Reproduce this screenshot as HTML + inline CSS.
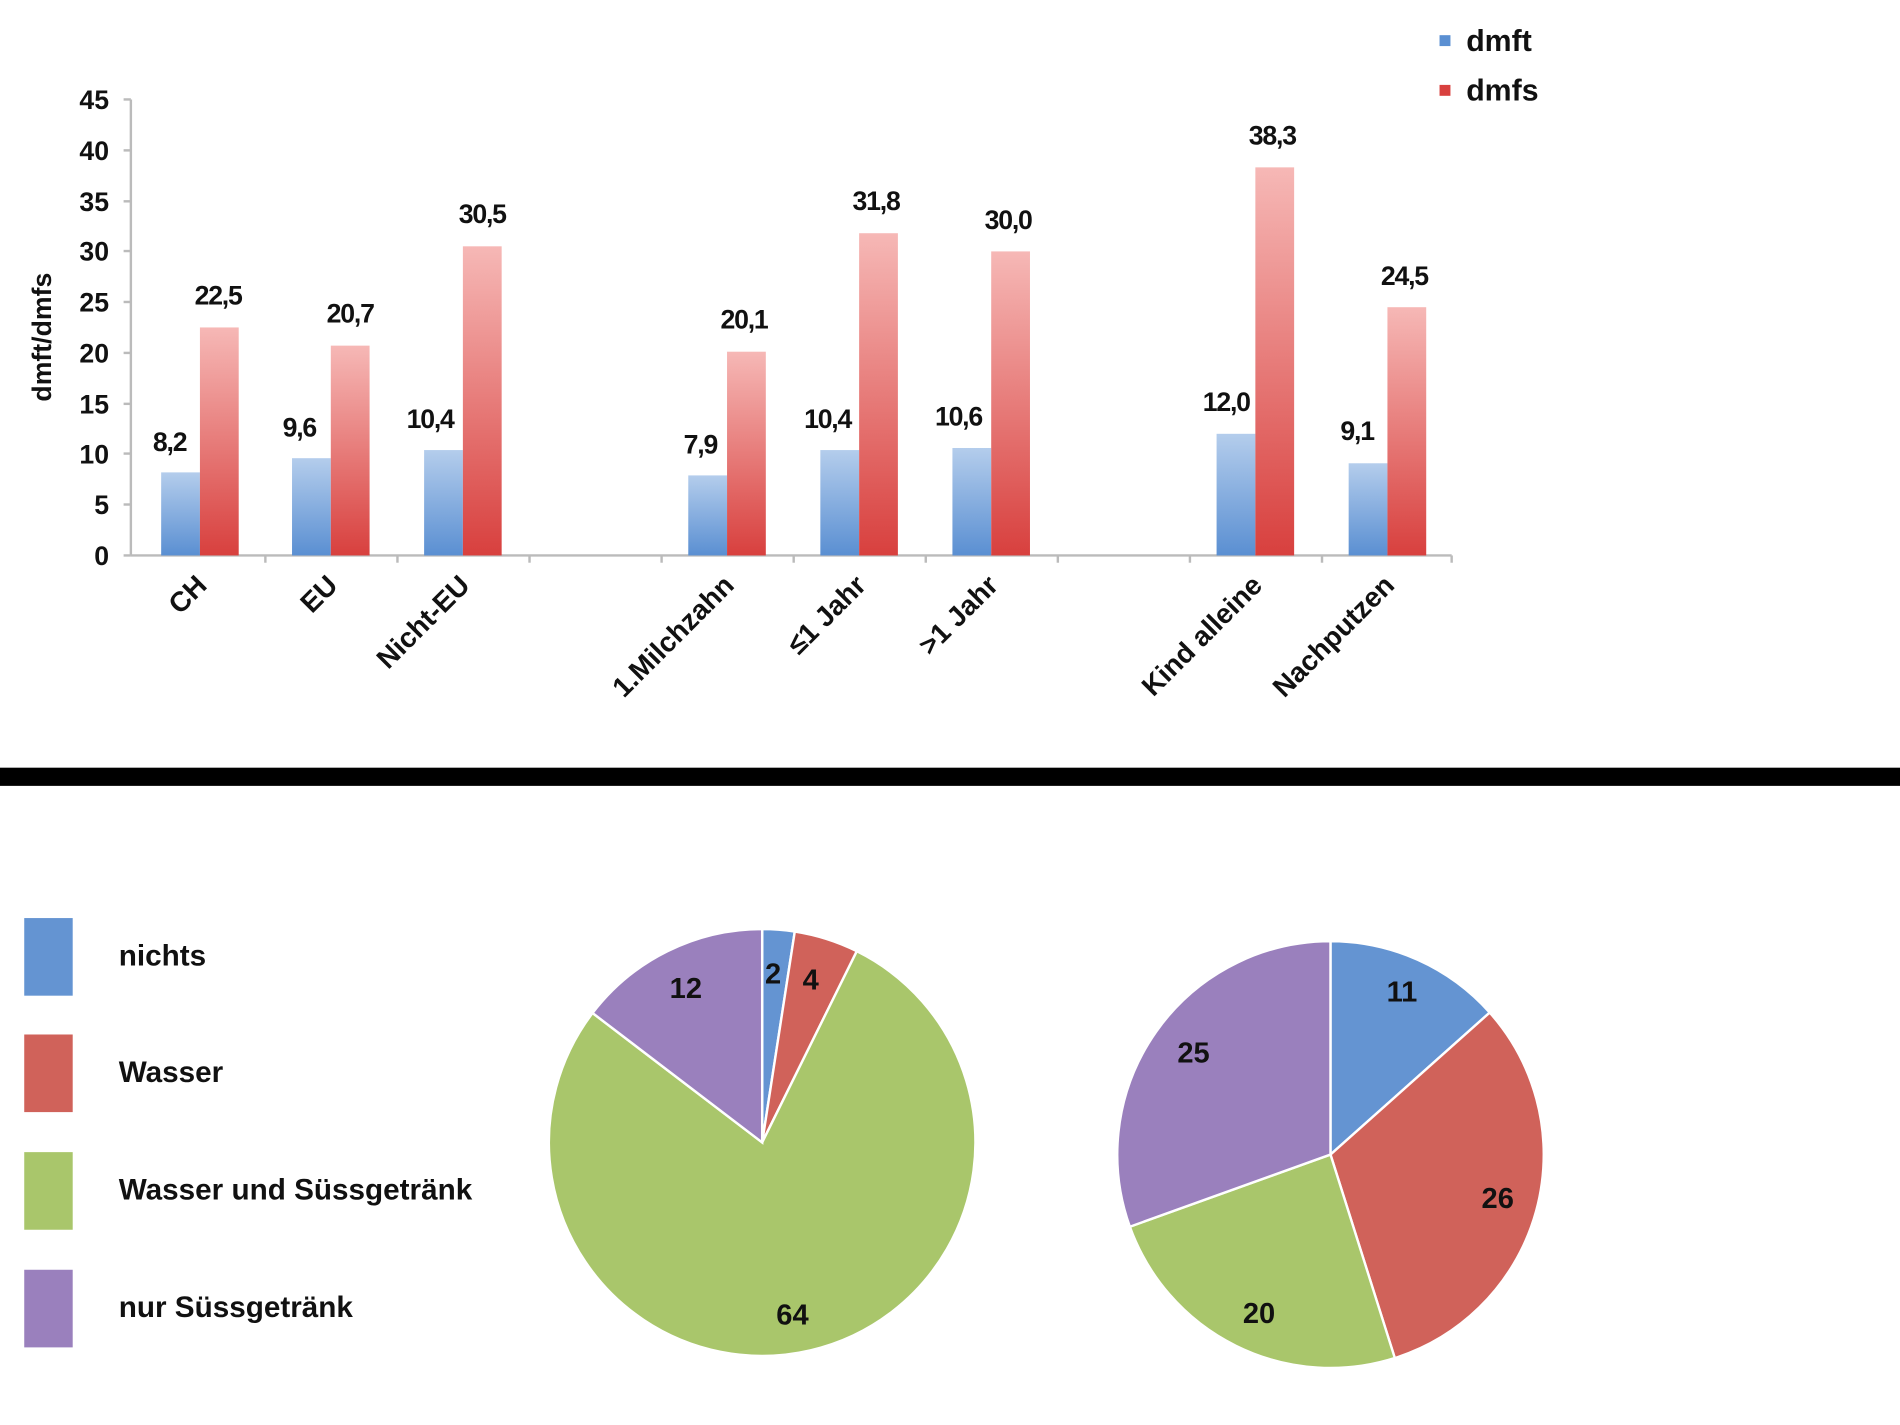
<!DOCTYPE html>
<html><head><meta charset="utf-8"><style>
html,body{margin:0;padding:0;background:#fff;}
svg{display:block;}
text{font-family:"Liberation Sans",sans-serif;fill:#111;}
.v{font-size:22px;font-weight:bold;text-anchor:middle;letter-spacing:-1px;}
.t{font-size:22px;font-weight:bold;text-anchor:end;}
.x{font-size:23px;font-weight:bold;text-anchor:end;}
.l{font-size:24.5px;font-weight:bold;}
.p{font-size:24px;font-weight:bold;text-anchor:middle;}
</style></head><body>
<svg width="1900" height="1425" viewBox="0 0 1568 1175" preserveAspectRatio="none">
<defs>
<linearGradient id="gb" x1="0" y1="0" x2="0" y2="1"><stop offset="0" stop-color="#b4cdec"/><stop offset="1" stop-color="#5a8fd2"/></linearGradient>
<linearGradient id="gr" x1="0" y1="0" x2="0" y2="1"><stop offset="0" stop-color="#f6b8b6"/><stop offset="1" stop-color="#d8403e"/></linearGradient>
</defs>
<g stroke="#bbb" stroke-width="2">
<line x1="108" y1="82" x2="108" y2="458"/>
<line x1="108" y1="458" x2="1198" y2="458"/>
<line x1="102" y1="82" x2="108" y2="82"/><line x1="102" y1="124" x2="108" y2="124"/><line x1="102" y1="166" x2="108" y2="166"/><line x1="102" y1="207" x2="108" y2="207"/><line x1="102" y1="249" x2="108" y2="249"/><line x1="102" y1="291" x2="108" y2="291"/><line x1="102" y1="333" x2="108" y2="333"/><line x1="102" y1="374" x2="108" y2="374"/><line x1="102" y1="416" x2="108" y2="416"/><line x1="102" y1="458" x2="108" y2="458"/>
<line x1="219" y1="458" x2="219" y2="464"/><line x1="328" y1="458" x2="328" y2="464"/><line x1="437" y1="458" x2="437" y2="464"/><line x1="546" y1="458" x2="546" y2="464"/><line x1="655" y1="458" x2="655" y2="464"/><line x1="764" y1="458" x2="764" y2="464"/><line x1="873" y1="458" x2="873" y2="464"/><line x1="982" y1="458" x2="982" y2="464"/><line x1="1091" y1="458" x2="1091" y2="464"/><line x1="1198" y1="458" x2="1198" y2="464"/>
</g>
<g>
<text x="90" y="90" class="t">45</text><text x="90" y="132" class="t">40</text><text x="90" y="174" class="t">35</text><text x="90" y="215" class="t">30</text><text x="90" y="257" class="t">25</text><text x="90" y="299" class="t">20</text><text x="90" y="341" class="t">15</text><text x="90" y="382" class="t">10</text><text x="90" y="424" class="t">5</text><text x="90" y="466" class="t">0</text>
</g>
<text x="42" y="278" transform="rotate(-90 42 278)" style="font-size:22px;font-weight:bold;text-anchor:middle">dmft/dmfs</text>
<g fill="url(#gb)">
<rect x="133" y="389.5" width="32" height="68.5"/><rect x="241" y="377.8" width="32" height="80.2"/><rect x="350" y="371.1" width="32" height="86.9"/><rect x="568" y="392" width="32" height="66"/><rect x="677" y="371.1" width="32" height="86.9"/><rect x="786" y="369.4" width="32" height="88.6"/><rect x="1004" y="357.7" width="32" height="100.3"/><rect x="1113" y="382" width="32" height="76"/>
</g>
<g fill="url(#gr)">
<rect x="165" y="270" width="32" height="188"/><rect x="273" y="285" width="32" height="173"/><rect x="382" y="203.1" width="32" height="254.9"/><rect x="600" y="290" width="32" height="168"/><rect x="709" y="192.3" width="32" height="265.7"/><rect x="818" y="207.3" width="32" height="250.7"/><rect x="1036" y="138" width="32" height="320"/><rect x="1145" y="253.3" width="32" height="204.7"/>
</g>
<g>
<text class="v" x="140" y="372">8,2</text><text class="v" x="180" y="251">22,5</text>
<text class="v" x="247" y="360">9,6</text><text class="v" x="289" y="266">20,7</text>
<text class="v" x="355" y="353">10,4</text><text class="v" x="398" y="184">30,5</text>
<text class="v" x="578" y="374">7,9</text><text class="v" x="614" y="271">20,1</text>
<text class="v" x="683" y="353">10,4</text><text class="v" x="723" y="173">31,8</text>
<text class="v" x="791" y="351">10,6</text><text class="v" x="832" y="189">30,0</text>
<text class="v" x="1012" y="339">12,0</text><text class="v" x="1050" y="119">38,3</text>
<text class="v" x="1120" y="363">9,1</text><text class="v" x="1159" y="235">24,5</text>
</g>
<g>
<text class="x" x="172" y="484" transform="rotate(-45 172 484)">CH</text>
<text class="x" x="280" y="484" transform="rotate(-45 280 484)">EU</text>
<text class="x" x="389" y="484" transform="rotate(-45 389 484)">Nicht-EU</text>
<text class="x" x="607" y="484" transform="rotate(-45 607 484)">1.Milchzahn</text>
<text class="x" x="716" y="484" transform="rotate(-45 716 484)">≤1 Jahr</text>
<text class="x" x="825" y="484" transform="rotate(-45 825 484)">&gt;1 Jahr</text>
<text class="x" x="1043" y="484" transform="rotate(-45 1043 484)">Kind alleine</text>
<text class="x" x="1152" y="484" transform="rotate(-45 1152 484)">Nachputzen</text>
</g>
<rect x="1188" y="29" width="9" height="9" fill="#5a8fd2"/>
<rect x="1188" y="70" width="9" height="9" fill="#d8403e"/>
<text x="1210" y="42" style="font-size:25px;font-weight:bold">dmft</text>
<text x="1210" y="83" style="font-size:25px;font-weight:bold">dmfs</text>
<rect x="0" y="633" width="1568" height="15" fill="#000"/>
<rect x="20" y="757" width="40" height="64" fill="#6494d2"/>
<rect x="20" y="853" width="40" height="64" fill="#d0625a"/>
<rect x="20" y="950" width="40" height="64" fill="#a9c66b"/>
<rect x="20" y="1047" width="40" height="64" fill="#9a80bd"/>
<text class="l" x="98" y="796">nichts</text>
<text class="l" x="98" y="892">Wasser</text>
<text class="l" x="98" y="989">Wasser und Süssgetränk</text>
<text class="l" x="98" y="1086">nur Süssgetränk</text>
<g stroke="#fff" stroke-width="2">
<path d="M629 942 L629 766 A176 176 0 0 1 655.9 768.1 Z" fill="#6494d2"/>
<path d="M629 942 L655.9 768.1 A176 176 0 0 1 707.1 784.3 Z" fill="#d0625a"/>
<path d="M629 942 L707.1 784.3 A176 176 0 1 1 489.0 835.3 Z" fill="#a9c66b"/>
<path d="M629 942 L489.0 835.3 A176 176 0 0 1 629 766 Z" fill="#9a80bd"/>
</g>
<text class="p" x="638" y="811">2</text><text class="p" x="669" y="816">4</text><text class="p" x="566" y="823">12</text><text class="p" x="654" y="1092">64</text>
<g stroke="#fff" stroke-width="2">
<path d="M1098 952 L1098 776 A176 176 0 0 1 1229.4 834.9 Z" fill="#6494d2"/>
<path d="M1098 952 L1229.4 834.9 A176 176 0 0 1 1151.1 1119.8 Z" fill="#d0625a"/>
<path d="M1098 952 L1151.1 1119.8 A176 176 0 0 1 932.4 1011.5 Z" fill="#a9c66b"/>
<path d="M1098 952 L932.4 1011.5 A176 176 0 0 1 1098 776 Z" fill="#9a80bd"/>
</g>
<text class="p" x="1157" y="826">11</text><text class="p" x="1236" y="996">26</text><text class="p" x="1039" y="1091">20</text><text class="p" x="985" y="876">25</text>
</svg>
</body></html>
